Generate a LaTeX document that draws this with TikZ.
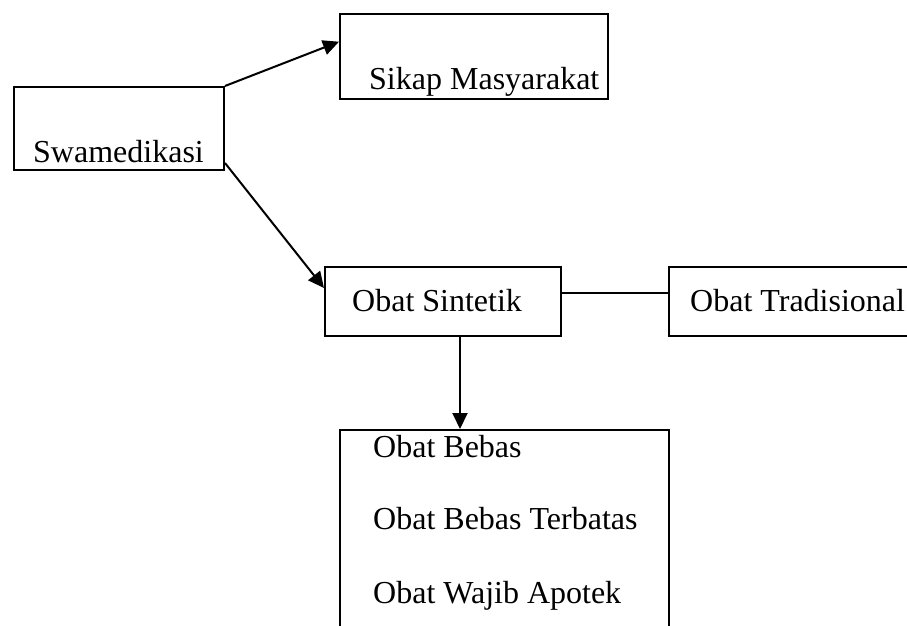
\documentclass[tikz,border=0pt]{standalone}
\usepackage{fontspec}
\setmainfont{Liberation Serif}
\usetikzlibrary{arrows.meta,calc}
\tikzset{
  box/.style={draw=black, line width=2pt, rectangle, inner sep=0pt, anchor=north west},
  txt/.style={inner sep=0pt, anchor=base west, font=\fontsize{32}{38}\selectfont},
  conn/.style={line width=2pt},
  arr/.style={line width=2pt, -{Triangle[length=16pt,width=15pt]}}
}
\begin{document}
\begin{tikzpicture}[x=1pt,y=-1pt]
\useasboundingbox (0,0) rectangle (907,626);
\clip (0,0) rectangle (907,626);
\fill[white] (0,0) rectangle (907,626);
% boxes
\node[box, minimum width=210pt, minimum height=83pt] (swa) at (13,86) {};
\node[box, minimum width=268pt, minimum height=85pt] (sik) at (339,13) {};
\node[box, minimum width=236pt, minimum height=69pt] (sin) at (324,266) {};
\node[box, minimum width=280pt, minimum height=69pt] (tra) at (668,266) {};
\node[box, minimum width=329pt, minimum height=260pt] (jen) at (339,429) {};
% texts
\node[txt] (tswa) at (33,162) {Swamedikasi};
\node[txt] (tsik) at (369,89) {Sikap Masyarakat};
\node[txt] (tsin) at (352,311) {Obat Sintetik};
\node[txt] (ttra) at (690,311) {Obat Tradisional};
\node[txt] (tj1) at (373,457) {Obat Bebas};
\node[txt] (tj2) at (373,529) {Obat Bebas Terbatas};
\node[txt] (tj3) at (373,603) {Obat Wajib Apotek};
% connectors
\draw[arr] (swa.north east) -- ($(sik.north west)!0.33!(sik.south west)$);
\draw[arr] ([yshift=8pt]swa.south east) -- ($(sin.north west)!0.31!(sin.south west)$);
\draw[conn] ([yshift=8.5pt]sin.east) -- ([yshift=8.5pt]sin.east -| tra.west);
\draw[arr] ([xshift=17pt]sin.south) -- ([xshift=17pt]sin.south |- jen.north);
\end{tikzpicture}
\end{document}
